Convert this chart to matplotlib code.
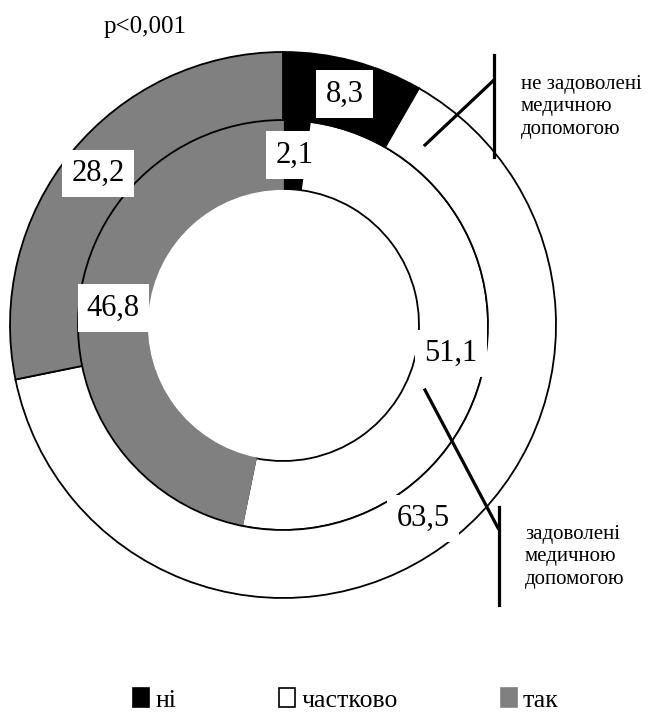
import matplotlib.pyplot as plt
from matplotlib.patches import Patch

# частки відповідей, %
categories = ["ні", "частково", "так"]
outer_vals = [8.3, 63.5, 28.2]   # зовнішнє кільце
inner_vals = [2.1, 51.1, 46.8]   # внутрішнє кільце
colors = ["black", "white", "#808080"]

W, H = 653, 716
plt.rcParams['font.family'] = ['Liberation Serif', 'DejaVu Serif']

fig = plt.figure(figsize=(W / 100, H / 100), dpi=100)
ax = fig.add_axes([0, 0, 1, 1])

cx, cy = 283, H - 325
r_out, r_mid, r_in = 273, 205, 136


def fmt(p):
    return ("%.1f" % p).replace(".", ",")


box = dict(boxstyle="square,pad=0.3", fc="white", ec="none")
tp = dict(fontsize=22, bbox=box)

# спочатку внутрішнє кільце, потім зовнішнє
w_in, _, _ = ax.pie(inner_vals, colors=colors, radius=r_mid, center=(cx, cy),
                    startangle=90, counterclock=False,
                    wedgeprops=dict(width=r_mid - r_in, edgecolor="black", linewidth=1.3),
                    autopct=fmt, pctdistance=(r_mid + r_in) / 2 / r_mid,
                    textprops=tp)
w_in[2].set_edgecolor("#808080")

w_out, _, _ = ax.pie(outer_vals, colors=colors, radius=r_out, center=(cx, cy),
                     startangle=90, counterclock=False,
                     wedgeprops=dict(width=r_out - r_mid, edgecolor="black", linewidth=1.3),
                     autopct=fmt, pctdistance=(r_out + r_mid) / 2 / r_out,
                     textprops=tp)

ax.set_xlim(0, W)
ax.set_ylim(0, H)
ax.axis("off")

ax.text(145, H - 27, "p<0,001", fontsize=18, ha="center", va="center")

# виноски
ax.plot([494, 494], [H - 55, H - 157], color="black", lw=2.3)
ax.plot([425, 494], [H - 145, H - 80], color="black", lw=2.3)
ax.text(521, H - 107, "не задоволені\nмедичною\nдопомогою", fontsize=15,
        ha="left", va="center", linespacing=1.25)

ax.plot([499, 499], [H - 507, H - 605], color="black", lw=2.3)
ax.plot([425, 498], [H - 390, H - 528], color="black", lw=2.3)
ax.text(525, H - 557, "задоволені\nмедичною\nдопомогою", fontsize=15,
        ha="left", va="center", linespacing=1.25)

handles = [Patch(facecolor=c, edgecolor="black" if c == "white" else c, linewidth=1.2)
           for c in colors]
fig.legend(handles, categories, loc="center", bbox_to_anchor=(346 / W, 1 - 700 / H),
           ncol=3, frameon=False, prop=dict(family=['Liberation Serif'], size=18.5),
           handlelength=0.62, handleheight=0.75,
           handletextpad=0.25, columnspacing=4.0, borderpad=0)

fig.savefig("out.png", dpi=100)
